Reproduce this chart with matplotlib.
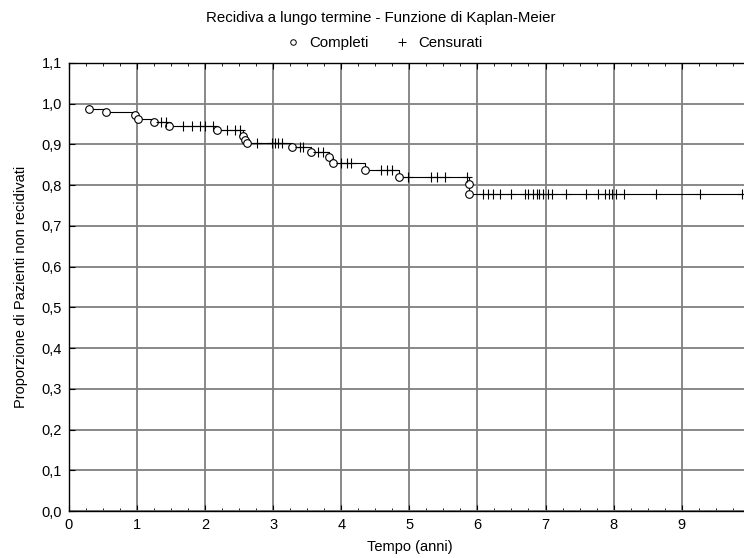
import numpy as np
import matplotlib
matplotlib.use("Agg")
import matplotlib.pyplot as plt
from matplotlib.ticker import MultipleLocator, FixedLocator, FuncFormatter
from matplotlib.lines import Line2D

plt.rcParams["font.family"] = ["Liberation Sans", "DejaVu Sans"]

# Kaplan-Meier data (time in years, survival, 1 = event / 0 = censored)
tempi = [0.30, 0.54, 0.97, 1.02, 1.25, 1.35, 1.42, 1.47, 1.67, 1.81, 1.92, 2.00, 2.11,
         2.17, 2.32, 2.44, 2.51, 2.56, 2.59, 2.62, 2.76, 2.98, 3.02, 3.07, 3.13,
         3.27, 3.39, 3.44, 3.56, 3.66, 3.73, 3.82, 3.88, 4.00, 4.08, 4.15,
         4.35, 4.59, 4.67, 4.74, 4.85, 4.98, 5.32, 5.40, 5.52, 5.85, 5.87, 5.88,
         6.08, 6.16, 6.23, 6.33, 6.50, 6.70, 6.74, 6.81, 6.87, 6.91, 6.96, 7.03, 7.09,
         7.30, 7.60, 7.77, 7.87, 7.93, 7.98, 8.03, 8.16, 8.63, 9.27, 9.89]
sopravvivenza = [0.988, 0.980, 0.972, 0.963, 0.956, 0.956, 0.956, 0.946, 0.946, 0.946, 0.946, 0.946, 0.946,
                 0.935, 0.935, 0.935, 0.935, 0.920, 0.911, 0.903, 0.903, 0.903, 0.903, 0.903, 0.903,
                 0.893, 0.893, 0.893, 0.881, 0.881, 0.881, 0.868, 0.855, 0.855, 0.855, 0.855,
                 0.837, 0.837, 0.837, 0.837, 0.821, 0.821, 0.821, 0.821, 0.821, 0.821, 0.802, 0.779,
                 0.779, 0.779, 0.779, 0.779, 0.779, 0.779, 0.779, 0.779, 0.779, 0.779, 0.779, 0.779, 0.779,
                 0.779, 0.779, 0.779, 0.779, 0.779, 0.779, 0.779, 0.779, 0.779, 0.779, 0.779]
evento = [1, 1, 1, 1, 1, 0, 0, 1, 0, 0, 0, 0, 0,
          1, 0, 0, 0, 1, 1, 1, 0, 0, 0, 0, 0,
          1, 0, 0, 1, 0, 0, 1, 1, 0, 0, 0,
          1, 0, 0, 0, 1, 0, 0, 0, 0, 0, 1, 1,
          0, 0, 0, 0, 0, 0, 0, 0, 0, 0, 0, 0, 0,
          0, 0, 0, 0, 0, 0, 0, 0, 0, 0, 0]
anni_tick = [0, 1, 2, 3, 4, 5, 6, 7, 8, 9]

t = np.array(tempi)
s = np.array(sopravvivenza)
e = np.array(evento) == 1

fig = plt.figure(figsize=(7.44, 5.58), dpi=100)
ax = fig.add_axes([0.0927, 0.0842, 0.915, 0.803])

ax.step(t, s, where="post", color="black", lw=0.8, zorder=3)
ax.plot(t[e], s[e], "o", ms=5.5, mfc="white", mec="black", mew=0.8, ls="none", zorder=4)
ax.plot(t[~e], s[~e], "+", ms=7, color="black", mew=0.8, ls="none", zorder=4)

ax.set_xlim(0, 10)
ax.set_ylim(0, 1.1)
ax.xaxis.set_major_locator(FixedLocator(anni_tick))
ax.xaxis.set_minor_locator(MultipleLocator(0.25))
ax.yaxis.set_major_locator(MultipleLocator(0.1))
ax.yaxis.set_major_formatter(FuncFormatter(lambda v, p: f"{v:.1f}".replace(".", ",")))
ax.xaxis.set_major_formatter(FuncFormatter(lambda v, p: f"{v:.0f}"))
ax.tick_params(which="both", direction="in", top=True, right=True, labelsize=10.5, color="black")
ax.tick_params(which="major", length=4, pad=5)
ax.tick_params(which="minor", length=2.5)
ax.grid(which="major", color="#7f7f7f", lw=1.3)
ax.set_axisbelow(True)
for sp in ax.spines.values():
    sp.set_linewidth(1.0)

ax.set_xlabel("Tempo (anni)", fontsize=10.5, labelpad=6)
ax.set_ylabel("Proporzione di Pazienti non recidivati", fontsize=10.5, labelpad=10)

fig.text(0.512, 0.968, "Recidiva a lungo termine - Funzione di Kaplan-Meier", ha="center", va="center", fontsize=10.8)
handles = [Line2D([], [], marker="o", ms=4, mfc="white", mec="black", mew=0.7, ls="none"),
           Line2D([], [], marker="+", ms=5.5, color="black", mew=0.7, ls="none")]
fig.legend(handles, ["Completi", "Censurati"], loc="center", bbox_to_anchor=(0.515, 0.923), ncol=2,
           frameon=False, fontsize=10.8, handletextpad=0.5, columnspacing=1.6, handlelength=1.2)

fig.savefig("out.png", dpi=100)
